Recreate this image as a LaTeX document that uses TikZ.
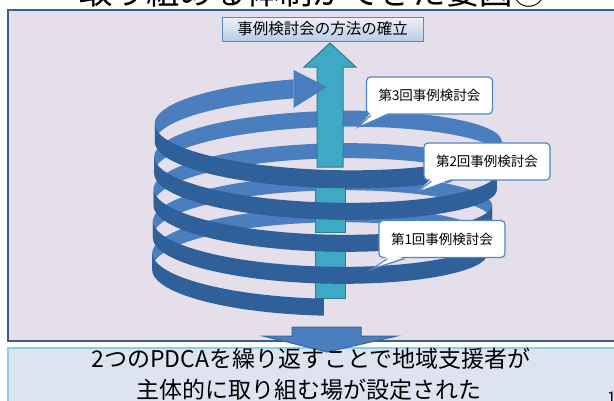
\documentclass[tikz,border=0pt]{standalone}
\usepackage{fontspec}
\setmainfont{Noto Sans CJK JP}
\usetikzlibrary{calc}

\definecolor{panelfill}{HTML}{E4DFEB}
\definecolor{panelline}{HTML}{3A5F8F}
\definecolor{lowfill}{HTML}{DDE3F1}
\definecolor{lowline}{HTML}{8ACFE2}
\definecolor{ribbonback}{HTML}{4A7EBE}
\definecolor{ribbonfront}{HTML}{30609A}
\definecolor{tealfill}{HTML}{3FA9C5}
\definecolor{tealline}{HTML}{2A8088}
\definecolor{boxline}{HTML}{5A8AC6}
\definecolor{boxtop}{HTML}{EEF2FA}
\definecolor{boxbottom}{HTML}{B9CCE7}
\definecolor{calloutline}{HTML}{4F86C6}
\definecolor{downfill}{HTML}{4A7EBE}
\definecolor{downline}{HTML}{3A669E}

% one stretch of the helical ribbon between two angles, half thickness #4
\newcommand\helixband[4]{%
  \fill[#1] plot[domain=#2:#3,samples=48] ({hx(\x)},{hy(\x)-#4})
    -- plot[domain=#3:#2,samples=48] ({hx(\x)},{hy(\x)+#4}) -- cycle;}

% pointer of a speech callout: node, base offset, base width, tip
\newcommand\calltail[4]{%
  \fill[white] ($(#1.south west)+(#2,-1.8)$) -- (#4) -- ($(#1.south west)+(#2+#3,-1.8)$) -- cycle;
  \draw[calloutline,line width=1.2pt] ($(#1.south west)+(#2,0.6)$) -- (#4) -- ($(#1.south west)+(#2+#3,0.6)$);}

\tikzset{
  callout box/.style={draw=calloutline, fill=white, line width=1.2pt, rounded corners=4pt,
    minimum width=126pt, minimum height=37pt, inner sep=0pt,
    font=\fontsize{13.5}{13.5}\selectfont},
  seg box/.style={draw=tealline, fill=tealfill, line width=1pt}
}

\begin{document}
\begin{tikzpicture}[x=1pt,y=-1pt,
  declare function={hx(\t)=318+\t/1620*12-(166+\t/1620*9)*sin(\t);
                    hy(\t)=269-\t/360*32+38*cos(\t);}]
\useasboundingbox (0,0) rectangle (614,400);
\clip (0,0) rectangle (614,400);

% heading
\node[anchor=base, inner sep=0pt, font=\fontsize{33.3}{33.3}\selectfont] (heading) at (313,4) {取り組める体制ができた要因②};

% panels
\draw[panelline, line width=1.8pt, fill=panelfill] (8,10) rectangle (640,341);
\draw[lowline, line width=1.2pt, fill=lowfill] (8,348) rectangle (640,430);

% back halves of the ribbon
\helixband{ribbonback}{90}{270}{7.5}
\helixband{ribbonback}{450}{630}{7.5}
\helixband{ribbonback}{810}{990}{7.5}
\helixband{ribbonback}{1170}{1350}{8}
\helixband{ribbonback}{1530}{1608}{9.5}

% rising arrow and its visible pieces
\draw[tealline, fill=tealfill, line width=1pt]
  (317,167) -- (317,67) -- (304,67) -- (330,43) -- (356,67) -- (343,67) -- (343,167) -- cycle;
\draw[seg box] (315,187) rectangle (345,203);
\draw[seg box] (315,215) rectangle (345,232);
\draw[seg box] (315,250) rectangle (345,267);
\draw[seg box] (315,282) rectangle (345,298);

% front halves of the ribbon
\helixband{ribbonfront}{-2}{90}{8.5}
\helixband{ribbonfront}{270}{450}{8.5}
\helixband{ribbonfront}{630}{810}{8.5}
\helixband{ribbonfront}{990}{1170}{8.5}
\helixband{ribbonfront}{1350}{1530}{9}

% ribbon head
\fill[ribbonback] ({hx(1608)},{hy(1608)-19}) -- (327,{hy(1620)}) -- ({hx(1608)},{hy(1608)+19}) -- cycle;

% goal box
\node[draw=boxline, line width=1pt, top color=boxtop, bottom color=boxbottom,
  minimum width=201pt, minimum height=24pt, inner sep=0pt,
  font=\fontsize{15.5}{15.5}\selectfont] (goal) at (322.5,29) {事例検討会の方法の確立};

% callouts
\node[callout box] (c3) at (429.5,95.5) {第3回事例検討会};
\coordinate (t3) at (358,127);
\calltail{c3}{5}{18}{t3}
\node[callout box] (c2) at (487,161.5) {第2回事例検討会};
\coordinate (t2) at (417,192);
\calltail{c2}{8}{20}{t2}
\node[callout box] (c1) at (442,239) {第1回事例検討会};
\coordinate (t1) at (372,269);
\calltail{c1}{9}{17}{t1}

% downward arrow
\draw[downline, fill=downfill, line width=1pt]
  (292,327) -- (361,327) -- (361,336) -- (397,336) -- (327,352) -- (263,336) -- (292,336) -- cycle;

% result text
\node[anchor=base, inner sep=0pt, font=\fontsize{23}{23}\selectfont] (res1) at (311,367) {2つのPDCAを繰り返すことで地域支援者が};
\node[anchor=base, inner sep=0pt, font=\fontsize{23}{23}\selectfont] (res2) at (309,398) {主体的に取り組む場が設定された};
\node[anchor=base west, inner sep=0pt, font=\fontsize{16}{16}\selectfont] (pageno) at (607,403) {1};
\end{tikzpicture}
\end{document}
